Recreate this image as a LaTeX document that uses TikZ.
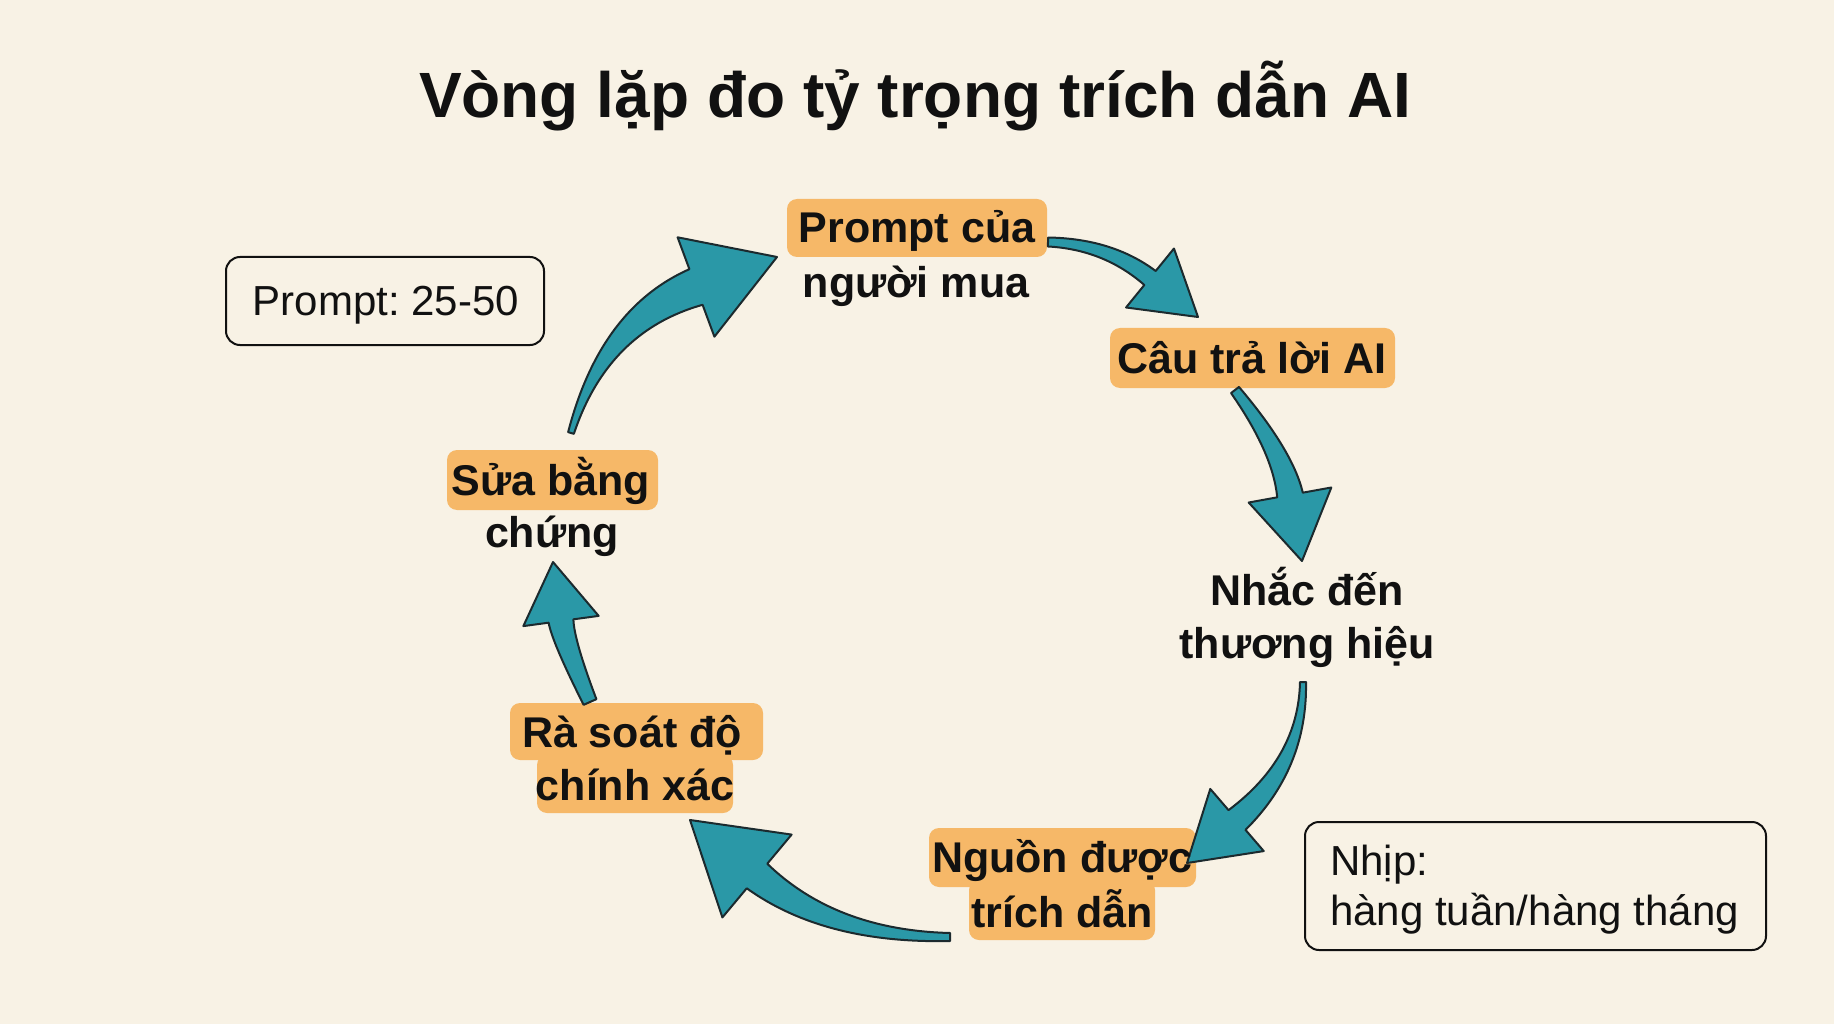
\documentclass[tikz,border=0pt]{standalone}
\usepackage{fontspec}
\setmainfont{Liberation Sans}
\usetikzlibrary{calc}
\definecolor{bgc}{HTML}{F8F2E5}
\definecolor{hlc}{HTML}{F6B868}
\definecolor{arrowfill}{HTML}{2A98A7}
\definecolor{arrowline}{HTML}{1C2A2E}
\definecolor{inkc}{HTML}{111111}
\frenchspacing
% #1 tail, #2 control, #3 head base, #4 tip, #5 tail half width, #6 base half width, #7 mid half width, #8 head half width
\newcommand\fatarrow[8]{%
  \path ($(#1)!#5pt!90:(#2)$) coordinate (tl) ($(#1)!#5pt!-90:(#2)$) coordinate (tr)
        ($(#2)!#7pt!90:(#3)$) coordinate (cl) ($(#2)!#7pt!-90:(#3)$) coordinate (cr)
        ($(#3)!#6pt!90:(#4)$) coordinate (bl) ($(#3)!#6pt!-90:(#4)$) coordinate (br)
        ($(#3)!#8pt!90:(#4)$) coordinate (hl) ($(#3)!#8pt!-90:(#4)$) coordinate (hr);
  \path ($(tl)!0.667!(cl)$) coordinate (tl2) ($(bl)!0.667!(cl)$) coordinate (bl2)
        ($(tr)!0.667!(cr)$) coordinate (tr2) ($(br)!0.667!(cr)$) coordinate (br2);
  \filldraw[fatarrowstyle] (tl) .. controls (tl2) and (bl2) .. (bl) -- (hl) -- (#4) -- (hr) -- (br) .. controls (br2) and (tr2) .. (tr) -- cycle;}
\tikzset{
  fatarrowstyle/.style={fill=arrowfill, draw=arrowline, line width=2pt, line join=round},
  lbl/.style={font=\bfseries\fontsize{43}{52}\selectfont, anchor=base, inner sep=0pt, text=inkc},
  plain/.style={font=\fontsize{42}{50}\selectfont, inner sep=0pt, text=inkc},
  infobox/.style={draw=inkc, line width=2pt, rounded corners=14pt, fill=bgc, inner sep=0pt},
  hilite/.style={fill=hlc, rounded corners=10pt}
}
\begin{document}
\begin{tikzpicture}[x=1pt,y=-1pt]
\useasboundingbox (0,0) rectangle (1834,1024);
\fill[bgc] (0,0) rectangle (1834,1024);

% title
\node[font=\bfseries\fontsize{64}{70}\selectfont, anchor=base, inner sep=0pt, text=inkc] (title) at (915,118) {Vòng lặp đo tỷ trọng trích dẫn AI};

% highlights
\fill[hilite] (787,199) rectangle (1047,257);
\fill[hilite] (1110,328) rectangle (1395,388);
\fill[hilite] (929,828) rectangle (1196,887);
\fill[hilite] (969,880) rectangle (1155,940);
\fill[hilite] (510,703) rectangle (763,760);
\fill[hilite] (537,755) rectangle (733,813);
\fill[hilite] (447,450) rectangle (658,510);

% arrow coordinates
\coordinate (a1t) at (571,433); \coordinate (a1c) at (604,320); \coordinate (a1b) at (696,287); \coordinate (a1p) at (777,257);
\coordinate (a2t) at (1048,242); \coordinate (a2c) at (1108,244); \coordinate (a2b) at (1150,278); \coordinate (a2p) at (1198,317);
\coordinate (a3t) at (1235,390); \coordinate (a3c) at (1283,452); \coordinate (a3b) at (1290,495); \coordinate (a3p) at (1302,561);
\coordinate (a4t) at (1303,682); \coordinate (a4c) at (1303,763); \coordinate (a4b) at (1237,820); \coordinate (a4p) at (1187,863);
\coordinate (a5t) at (950,937); \coordinate (a5c) at (830,937); \coordinate (a5b) at (757,876); \coordinate (a5p) at (690,820);
\coordinate (a6t) at (590,702); \coordinate (a6c) at (563,641); \coordinate (a6b) at (561,621); \coordinate (a6p) at (553,562);

\fatarrow{a1t}{a1c}{a1b}{a1p}{3}{19}{12}{53}
\fatarrow{a2t}{a2c}{a2b}{a2p}{4.5}{9}{7}{38}
\fatarrow{a3t}{a3c}{a3b}{a3p}{5}{13}{10}{42}
\fatarrow{a4t}{a4c}{a4b}{a4p}{3}{13}{7}{41}
\fatarrow{a5t}{a5c}{a5b}{a5p}{4}{16}{9}{54}
\fatarrow{a6t}{a6c}{a6b}{a6p}{7}{12.5}{11}{38}

% step labels
\node[lbl] (p1a) at (917,243) {Prompt của};
\node[lbl] (p1b) at (916,298) {người mua};
\node[lbl] (p2) at (1252,373) {Câu trả lời AI};
\node[lbl] (p3a) at (1307,605) {Nhắc đến};
\node[lbl] (p3b) at (1307,658) {thương hiệu};
\node[lbl] (p4a) at (1062,872) {Nguồn được};
\node[lbl] (p4b) at (1062,927) {trích dẫn};
\node[lbl] (p5a) at (632,747) {Rà soát độ};
\node[lbl] (p5b) at (635,800) {chính xác};
\node[lbl] (p6a) at (551,495) {Sửa bằng};
\node[lbl] (p6b) at (552,547) {chứng};

% info boxes
\node[infobox, minimum width=318pt, minimum height=88pt] (box1) at (385,301) {};
\node[plain, anchor=base] (box1t) at (386,316) {Prompt: 25-50};
\node[infobox, minimum width=461pt, minimum height=128pt] (box2) at (1535.5,886) {};
\node[plain, anchor=base west] (box2a) at (1330,875) {Nhịp:};
\node[plain, anchor=base west] (box2b) at (1330,925) {hàng tuần/hàng tháng};
\end{tikzpicture}
\end{document}
